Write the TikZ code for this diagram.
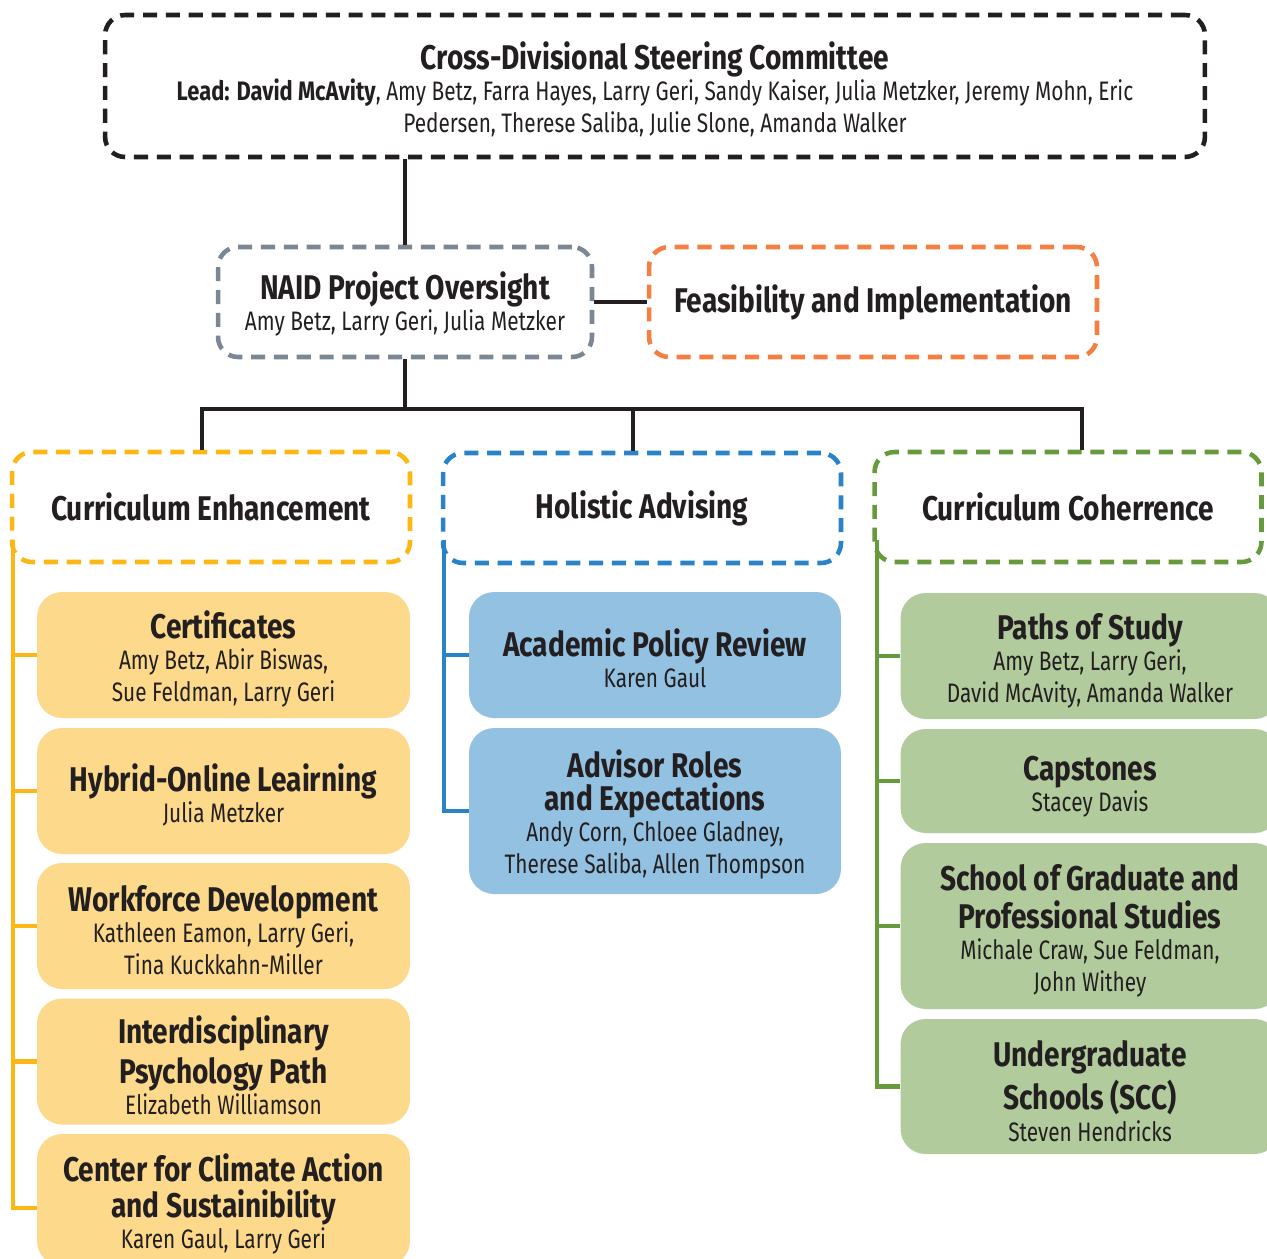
\documentclass[tikz,border=0pt]{standalone}
\usepackage{fontspec}
\setmainfont{Fira Sans}[FakeStretch=0.78, BoldFeatures={FakeStretch=0.82}]
\definecolor{ink}{HTML}{231F20}
\definecolor{slate}{HTML}{7B8794}
\definecolor{tangerine}{HTML}{F47F43}
\definecolor{goldline}{HTML}{FDB714}
\definecolor{goldfill}{HTML}{FCD98B}
\definecolor{skyline}{HTML}{2A83C6}
\definecolor{skyfill}{HTML}{93C1E1}
\definecolor{leafline}{HTML}{679A3C}
\definecolor{leaffill}{HTML}{B1CB9D}
\newcommand{\headfont}{\fontsize{19.5}{18.2}\selectfont\bfseries}
\newcommand{\boxhead}{\rule{0pt}{20pt}\headfont}
\newcommand{\namefont}{\fontsize{15.2}{18.2}\selectfont\mdseries}
\tikzset{
	dashbox/.style={draw=#1, line width=2.6pt, dash pattern=on 8pt off 5pt, rounded corners=0.4cm, fill=white, align=center, inner sep=0pt, text=ink, font=\fontsize{15}{18.2}\selectfont},
	fillbox/.style={fill=#1, rounded corners=0.5cm, align=center, inner sep=0pt, text=ink, font=\fontsize{15}{18.2}\selectfont},
	link/.style={draw=ink, line width=2.3pt},
	spine/.style={draw=#1, line width=2.3pt}
}
\begin{document}
\begin{tikzpicture}[x=0.02cm, y=-0.02cm]
	\useasboundingbox (0,0) rectangle (1267,1258);
	\clip (0,0) rectangle (1267,1258);
	\node[dashbox=ink, minimum width=22cm, minimum height=2.84cm] (steer) at (655,86) {\boxhead Cross-Divisional Steering Committee\\[-0.5pt] \namefont\textbf{Lead: David McAvity}, Amy Betz, Farra Hayes, Larry Geri, Sandy Kaiser, Julia Metzker, Jeremy Mohn, Eric\\ \namefont Pedersen, Therese Saliba, Julie Slone, Amanda Walker};
	\node[dashbox=slate, minimum width=7.48cm, minimum height=2.2cm] (naid) at (405,302) {\rule{0pt}{18pt}\headfont NAID Project Oversight\\[-1pt] \namefont Amy Betz, Larry Geri, Julia Metzker};
	\node[dashbox=tangerine, minimum width=8.96cm, minimum height=2.2cm] (feas) at (873,302) {\headfont Feasibility and Implementation};
	\node[dashbox=goldline, minimum width=7.96cm, minimum height=2.2cm] (enh) at (211,507) {\headfont Curriculum Enhancement};
	\node[dashbox=skyline, minimum width=7.96cm, minimum height=2.2cm] (adv) at (642,508) {\headfont Holistic Advising};
	\node[dashbox=leafline, minimum width=7.74cm, minimum height=2.2cm] (coh) at (1068,507) {\headfont Curriculum Coherrence};
	\coordinate (busL) at (202,409);
	\coordinate (busM) at (633,409);
	\coordinate (busR) at (1082,409);
	\draw[link] (naid.north) -- (naid.north |- steer.south);
	\draw[link] (naid.east) -- (feas.west);
	\draw[link] (naid.south) -- (naid.south |- busL);
	\draw[link] (busL |- enh.north) -- (busL) -- (busR) -- (busR |- coh.north);
	\draw[link] (busM) -- (busM |- adv.north);
	\node[fillbox=goldfill, minimum width=7.46cm, minimum height=2.52cm] (cert) at (223.5,655) {\boxhead Certificates\\[-0.5pt] \namefont Amy Betz, Abir Biswas,\\ \namefont Sue Feldman, Larry Geri};
	\node[fillbox=goldfill, minimum width=7.46cm, minimum height=2.52cm] (hybr) at (223.5,791) {\boxhead Hybrid-Online Leairning\\[-0.5pt] \namefont Julia Metzker};
	\node[fillbox=goldfill, minimum width=7.46cm, minimum height=2.52cm] (work) at (223.5,926) {\boxhead Workforce Development\\[-0.5pt] \namefont Kathleen Eamon, Larry Geri,\\ \namefont Tina Kuckkahn-Miller};
	\node[fillbox=goldfill, minimum width=7.46cm, minimum height=2.52cm] (psyc) at (223.5,1061.5) {\boxhead Interdisciplinary\\[2.5pt] \headfont Psychology Path\\[-0.5pt] \namefont Elizabeth Williamson};
	\node[fillbox=goldfill, minimum width=7.46cm, minimum height=2.64cm] (clim) at (223.5,1200) {\boxhead Center for Climate Action\\[2.5pt] \headfont and Sustainibility\\[-0.5pt] \namefont Karen Gaul, Larry Geri};
	\node[fillbox=skyfill, minimum width=7.44cm, minimum height=2.52cm] (poli) at (655,655) {\boxhead Academic Policy Review\\[-0.5pt] \namefont Karen Gaul};
	\node[fillbox=skyfill, minimum width=7.44cm, minimum height=3.32cm] (role) at (655,811) {\boxhead Advisor Roles\\[0.5pt] \headfont and Expectations\\[-0.5pt] \namefont Andy Corn, Chloee Gladney,\\ \namefont Therese Saliba, Allen Thompson};
	\node[fillbox=leaffill, minimum width=7.58cm, minimum height=2.52cm] (path) at (1090,656) {\boxhead Paths of Study\\[-0.5pt] \namefont Amy Betz, Larry Geri,\\ \namefont David McAvity, Amanda Walker};
	\node[fillbox=leaffill, minimum width=7.58cm, minimum height=2.08cm] (caps) at (1090,781) {\boxhead Capstones\\[-0.5pt] \namefont Stacey Davis};
	\node[fillbox=leaffill, minimum width=7.58cm, minimum height=3.32cm] (grad) at (1090,926) {\boxhead School of Graduate and\\[3.3pt] \headfont Professional Studies\\[-0.5pt] \namefont Michale Craw, Sue Feldman,\\ \namefont John Withey};
	\node[fillbox=leaffill, minimum width=7.58cm, minimum height=2.7cm] (ugrd) at (1090,1086.5) {\boxhead Undergraduate\\[2.5pt] \headfont Schools (SCC)\\[-0.5pt] \namefont Steven Hendricks};
	\coordinate (enhTop) at (13,540);
	\coordinate (advTop) at (444,540);
	\coordinate (cohTop) at (877,540);
	\draw[spine=goldline] (enhTop) |- ([yshift=-4.5pt]clim.west);
	\foreach \b in {cert,hybr,work,psyc}
		\draw[spine=goldline] (enhTop |- \b.west) -- (\b.west);
	\draw[spine=skyline] (advTop) -- (advTop |- role.west) -- (role.west);
	\draw[spine=skyline] (advTop |- poli.west) -- (poli.west);
	\draw[spine=leafline] (cohTop) -- (cohTop |- ugrd.west) -- (ugrd.west);
	\foreach \b in {path,caps,grad}
		\draw[spine=leafline] (cohTop |- \b.west) -- (\b.west);
\end{tikzpicture}
\end{document}
